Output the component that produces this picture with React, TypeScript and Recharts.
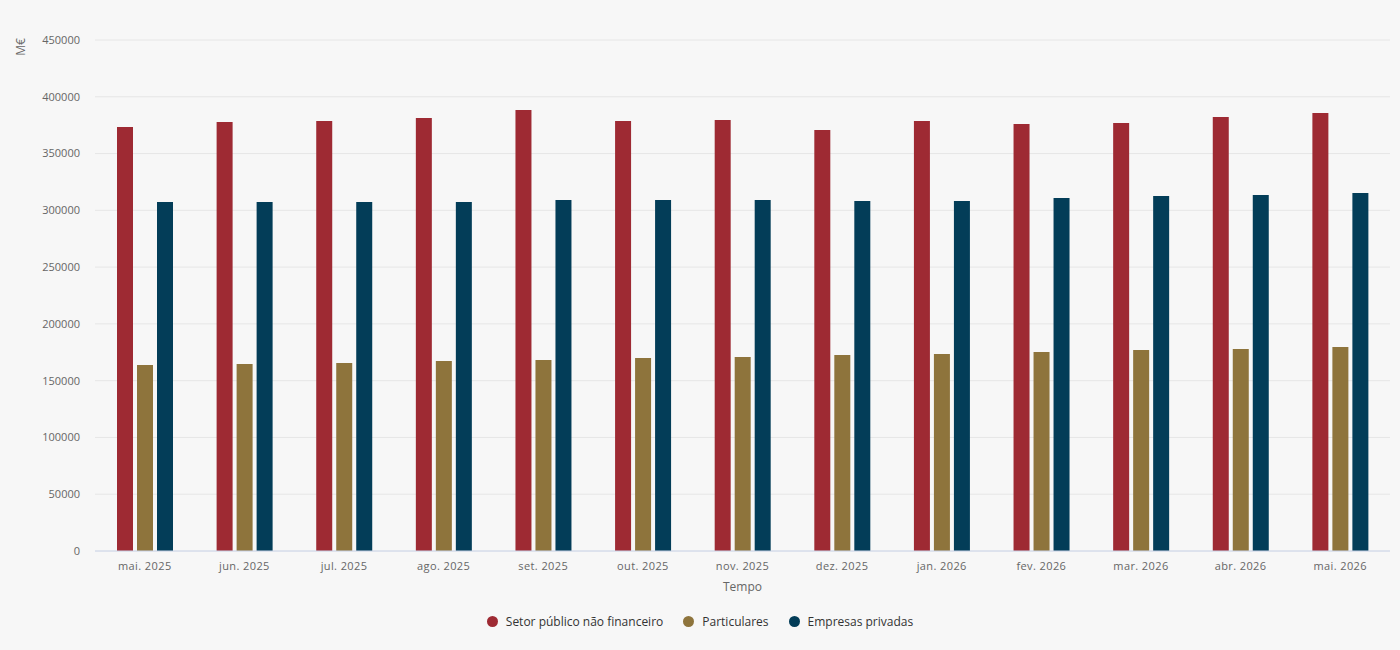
import { BarChart, Bar, XAxis, YAxis, CartesianGrid, Legend } from 'recharts';

const MONTHS = [
  'mai. 2025', 'jun. 2025', 'jul. 2025', 'ago. 2025', 'set. 2025', 'out. 2025', 'nov. 2025',
  'dez. 2025', 'jan. 2026', 'fev. 2026', 'mar. 2026', 'abr. 2026', 'mai. 2026',
];

const SETOR_PUBLICO = [373400, 377800, 378700, 381300, 388300, 378700, 379500, 370700, 378700, 376000, 376900, 382200, 385700];
const PARTICULARES = [163800, 164700, 165600, 167300, 168200, 170000, 170800, 172600, 173500, 175200, 177000, 177900, 179700];
const EMPRESAS = [307300, 307300, 307300, 307300, 309100, 309100, 309100, 308200, 308200, 310900, 312600, 313500, 315300];

const Y_TICKS = [0, 50000, 100000, 150000, 200000, 250000, 300000, 350000, 400000, 450000];

const SERIES = [
  { key: 'setor', name: 'Setor público não financeiro', color: '#9e2a33' },
  { key: 'part', name: 'Particulares', color: '#8e743c' },
  { key: 'emp', name: 'Empresas privadas', color: '#033d58' },
];

const data = MONTHS.map((m, i) => ({
  month: m,
  setor: SETOR_PUBLICO[i],
  part: PARTICULARES[i],
  emp: EMPRESAS[i],
}));

const FONT = '"Open Sans", sans-serif';

function LegendRow() {
  return (
    <div style={{ display: 'flex', justifyContent: 'center', gap: 20, fontFamily: FONT, fontSize: 12, color: '#333' }}>
      {SERIES.map((s) => (
        <div key={s.key} style={{ display: 'flex', alignItems: 'center', gap: 8 }}>
          <span style={{ width: 11, height: 11, borderRadius: '50%', background: s.color, display: 'inline-block' }} />
          <span>{s.name}</span>
        </div>
      ))}
    </div>
  );
}

export default function App() {
  return (
    <div style={{ position: 'absolute', left: 0, top: 0, width: 1400, height: 650, background: '#f7f7f7' }}>
      <BarChart
        width={1400}
        height={650}
        data={data}
        margin={{ top: 40, right: 10, left: 0, bottom: 32 }}
        barGap={4}
        barCategoryGap={22}
      >
        <CartesianGrid vertical={false} stroke="#e6e6e6" />
        <XAxis
          dataKey="month"
          height={50}
          tickLine={false}
          axisLine={{ stroke: '#ccd6eb' }}
          tick={{ fill: '#666', fontSize: 11, fontFamily: FONT, letterSpacing: 0.4 }}
          tickMargin={5}
          interval={0}
          label={{ value: 'Tempo', position: 'insideBottom', offset: 10, fill: '#666', fontSize: 12, fontFamily: FONT }}
        />
        <YAxis
          width={95}
          domain={[0, 450000]}
          ticks={Y_TICKS}
          tickLine={false}
          axisLine={false}
          tick={{ fill: '#666', fontSize: 11, fontFamily: FONT }}
          tickMargin={9}
          label={{
            content: () => (
              <text x={22} y={47} transform="rotate(-90 22 47)" textAnchor="middle" dominantBaseline="middle" fill="#666" fontSize={12} fontFamily={FONT}>
                M€
              </text>
            ),
          }}
        />
        <Legend
          verticalAlign="bottom"
          content={() => <LegendRow />}
          wrapperStyle={{ top: 613, left: 0, width: 1400 }}
        />
        {SERIES.map((s) => (
          <Bar key={s.key} dataKey={s.key} name={s.name} fill={s.color} barSize={16} isAnimationActive={false} />
        ))}
      </BarChart>
    </div>
  );
}
